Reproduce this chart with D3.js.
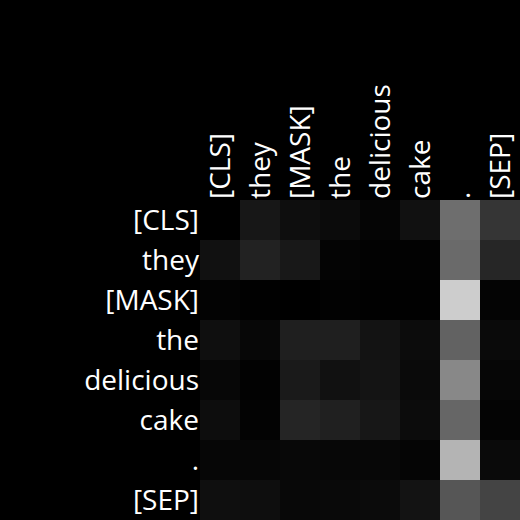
<!DOCTYPE html>
<html><head><meta charset="utf-8">
<script src="https://cdn.jsdelivr.net/npm/d3@7"></script>
<style>html,body{margin:0;padding:0;background:#000;}svg{display:block;}</style>
</head><body>
<svg id="chart" width="520" height="520"></svg>
<script>
const tokens = ["[CLS]","they","[MASK]","the","delicious","cake",".","[SEP]"];
const row0 = [0.000,0.090,0.055,0.043,0.020,0.067,0.431,0.208];
const row1 = [0.067,0.133,0.094,0.016,0.008,0.008,0.416,0.149];
const row2 = [0.012,0.004,0.000,0.008,0.004,0.004,0.804,0.016];
const row3 = [0.059,0.027,0.122,0.122,0.075,0.047,0.384,0.039];
const row4 = [0.027,0.008,0.102,0.067,0.078,0.039,0.533,0.024];
const row5 = [0.051,0.012,0.145,0.125,0.090,0.047,0.400,0.016];
const row6 = [0.024,0.024,0.031,0.027,0.027,0.020,0.706,0.039];
const row7 = [0.059,0.055,0.031,0.035,0.043,0.075,0.337,0.267];
const matrix = [row0,row1,row2,row3,row4,row5,row6,row7];

const svg = d3.select("#chart");
const mLeft = 200, mTop = 200, size = 320;
const x = d3.scaleBand().domain(d3.range(tokens.length)).range([mLeft, mLeft+size]);
const y = d3.scaleBand().domain(d3.range(tokens.length)).range([mTop, mTop+size]);
const color = d3.scaleLinear().domain([0,1]).range(["#000000","#ffffff"]);

svg.append("rect").attr("width",520).attr("height",520).attr("fill","#000");

const cells = [];
matrix.forEach((r,i)=>r.forEach((v,j)=>cells.push({i,j,v})));
svg.append("g").selectAll("rect").data(cells).join("rect")
  .attr("x",d=>x(d.j)).attr("y",d=>y(d.i))
  .attr("width",x.bandwidth()).attr("height",y.bandwidth())
  .attr("fill",d=>color(d.v)).attr("shape-rendering","crispEdges");

const font = "'Open Sans', 'Noto Sans', sans-serif";
svg.append("g").selectAll("text").data(tokens).join("text")
  .attr("x",mLeft-1).attr("y",(d,i)=>y(i)+y.bandwidth()/2)
  .attr("dy","0.35em").attr("text-anchor","end")
  .attr("fill","#fff").style("font-family",font).style("font-size","28px")
  .text(d=>d);

svg.append("g").selectAll("text").data(tokens).join("text")
  .attr("transform",(d,i)=>`translate(${x(i)+x.bandwidth()/2},${mTop-1}) rotate(-90)`)
  .attr("dy","0.35em").attr("text-anchor","start")
  .attr("fill","#fff").style("font-family",font).style("font-size","28px")
  .text(d=>d);
</script>
</body></html>
